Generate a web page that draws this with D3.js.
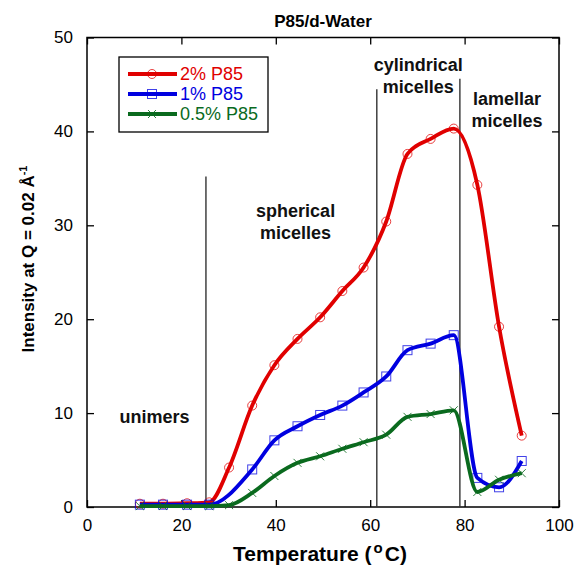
<!DOCTYPE html>
<html>
<head>
<meta charset="utf-8">
<script src="https://cdn.jsdelivr.net/npm/d3@7"></script>
<style>
  body { margin: 0; background: #fff; }
  svg text { font-family: "Liberation Sans", Arial, sans-serif; }
</style>
</head>
<body>
<div id="chart"></div>
<script>
// data
const temps = [11.2, 16.1, 21.2, 25.9, 30.1, 35.0, 39.7, 44.6, 49.4, 54.1, 58.6, 63.4, 67.9, 72.8, 77.7, 82.7, 87.3, 92.1];
const p85_2 = [0.35, 0.35, 0.4, 0.5, 4.2, 10.8, 15.1, 17.9, 20.2, 23.0, 25.5, 30.4, 37.6, 39.2, 40.3, 34.3, 19.2, 7.6];
const p85_1 = [0.25, 0.25, 0.25, 0.25, null, 4.0, 7.1, 8.6, 9.8, 10.8, 12.2, 13.9, 16.7, 17.4, 18.3, 3.1, 2.1, 4.9];
const p85_05 = [0.1, 0.1, 0.1, 0.1, 0.2, 1.5, 3.3, 4.7, 5.4, 6.2, 6.9, 7.7, 9.6, 9.9, 10.3, 1.6, 2.9, 3.6];
const seriesNames = ["2% P85", "1% P85", "0.5% P85"];
const xTicks = [0, 20, 40, 60, 80, 100];
const yTicks = [0, 10, 20, 30, 40, 50];
// phase boundaries: [temperature, top of line]
const boundaries = [[25.2, 35.2], [61.4, 44.5], [79.0, 45.6]];
const phaseLabels = [
  { lines: ["unimers"], x: 14.3, y: 8.9 },
  { lines: ["spherical", "micelles"], x: 44.2, y: 30.9 },
  { lines: ["cylindrical", "micelles"], x: 70.2, y: 46.4 },
  { lines: ["lamellar", "micelles"], x: 89.0, y: 42.8 }
];

const W = 575, H = 566;
const margin = { left: 87, right: 16, top: 37.5, bottom: 59 };
const colors = ["#e00000", "#0000e0", "#0a6a1e"];
const shapes = ["circle", "square", "cross"];

const svg = d3.select("#chart").append("svg")
  .attr("width", W).attr("height", H);

const x = d3.scaleLinear().domain([0, 100]).range([margin.left, W - margin.right]);
const y = d3.scaleLinear().domain([0, 50]).range([H - margin.bottom, margin.top]);

// title
svg.append("text")
  .attr("x", (x(0) + x(100)) / 2).attr("y", 27)
  .attr("text-anchor", "middle")
  .style("font-size", "17px").style("font-weight", "bold")
  .text("P85/d-Water");

// axes with inward ticks
const tickLen = 7;
svg.append("g").attr("transform", `translate(0,${y(0)})`)
  .call(d3.axisBottom(x).tickValues(xTicks).tickSize(-tickLen).tickPadding(tickLen + 5))
  .call(g => g.select(".domain").remove());
svg.append("g").attr("transform", `translate(0,${y(50)})`)
  .call(d3.axisTop(x).tickValues(xTicks).tickSize(-tickLen).tickFormat(""))
  .call(g => g.select(".domain").remove());
svg.append("g").attr("transform", `translate(${x(0)},0)`)
  .call(d3.axisLeft(y).tickValues(yTicks).tickSize(-tickLen).tickPadding(tickLen + 7))
  .call(g => g.select(".domain").remove());
svg.append("g").attr("transform", `translate(${x(100)},0)`)
  .call(d3.axisRight(y).tickValues(yTicks).tickSize(-tickLen).tickFormat(""))
  .call(g => g.select(".domain").remove());
svg.selectAll(".tick line").attr("stroke", "#000").attr("stroke-width", 1.3);
svg.selectAll(".tick text").style("font-size", "17px").attr("fill", "#000")
  .style("font-family", "'Liberation Sans', Arial, sans-serif");

svg.append("rect")
  .attr("x", x(0)).attr("y", y(50))
  .attr("width", x(100) - x(0)).attr("height", y(0) - y(50))
  .attr("fill", "none").attr("stroke", "#000").attr("stroke-width", 1.5);

// axis titles
const xt = svg.append("text")
  .attr("x", (x(0) + x(100)) / 2 - 3).attr("y", 561)
  .attr("text-anchor", "middle")
  .style("font-size", "21px").style("font-weight", "bold");
xt.append("tspan").text("Temperature (");
xt.append("tspan").attr("dx", 2).attr("dy", -8).style("font-size", "15px").text("o");
xt.append("tspan").attr("dx", 2).attr("dy", 8).text("C)");

const yt = svg.append("text")
  .attr("transform", `translate(34,259) rotate(-90)`)
  .attr("text-anchor", "middle")
  .style("font-size", "17px").style("font-weight", "bold");
yt.append("tspan").text("Intensity at Q = 0.02 Å");
yt.append("tspan").attr("dy", -7).style("font-size", "11px").text("-1");

// phase boundary lines
svg.selectAll(".boundary").data(boundaries).enter()
  .append("line")
  .attr("x1", d => x(d[0])).attr("x2", d => x(d[0]))
  .attr("y1", d => y(d[1])).attr("y2", y(0))
  .attr("stroke", "#333").attr("stroke-width", 1.4);

// phase labels
phaseLabels.forEach(p => {
  const t = svg.append("text")
    .attr("text-anchor", "middle")
    .style("font-size", "18px").style("font-weight", "bold").attr("fill", "#111");
  p.lines.forEach((s, i) => {
    t.append("tspan").attr("x", x(p.x)).attr("y", y(p.y) + i * 22).text(s);
  });
});

// series
const allSeries = [p85_2, p85_1, p85_05].map((vals, i) => ({
  name: seriesNames[i],
  color: colors[i],
  shape: shapes[i],
  points: temps.map((t, j) => ({ t, v: vals[j] })).filter(d => d.v !== null)
}));

const line = d3.line()
  .x(d => x(d.t)).y(d => y(d.v))
  .curve(d3.curveMonotoneX);

function drawMarker(g, shape, color) {
  if (shape === "circle") {
    g.append("circle").attr("r", 4.5)
      .attr("fill", "none").attr("stroke", color).attr("stroke-width", 1).attr("opacity", 0.75);
  } else if (shape === "square") {
    g.append("rect").attr("x", -4.5).attr("y", -4.5).attr("width", 9).attr("height", 9)
      .attr("fill", "none").attr("stroke", color).attr("stroke-width", 1).attr("opacity", 0.75);
  } else {
    g.append("path").attr("d", "M-4,-4L4,4M-4,4L4,-4")
      .attr("stroke", color).attr("stroke-width", 1).attr("opacity", 0.85);
  }
}

allSeries.forEach(s => {
  svg.append("path")
    .datum(s.points)
    .attr("d", line)
    .attr("fill", "none")
    .attr("stroke", s.color)
    .attr("stroke-width", 3.8)
    .attr("stroke-linejoin", "round");
  svg.selectAll(null).data(s.points).enter()
    .append("g")
    .attr("transform", d => `translate(${x(d.t)},${y(d.v)})`)
    .each(function () { drawMarker(d3.select(this), s.shape, s.color); });
});

// legend
const legend = svg.append("g");
legend.append("rect")
  .attr("x", 119).attr("y", 57).attr("width", 149).attr("height", 75)
  .attr("fill", "#fff").attr("stroke", "#000").attr("stroke-width", 1.3);
allSeries.forEach((s, i) => {
  const ly = 74 + i * 20;
  legend.append("line")
    .attr("x1", 128).attr("x2", 177).attr("y1", ly).attr("y2", ly)
    .attr("stroke", s.color).attr("stroke-width", 3.8);
  const m = legend.append("g").attr("transform", `translate(152,${ly})`);
  drawMarker(m, s.shape, s.color);
  legend.append("text")
    .attr("x", 180).attr("y", ly + 6)
    .style("font-size", "18px").attr("fill", s.color)
    .text(s.name);
});
</script>
</body>
</html>
